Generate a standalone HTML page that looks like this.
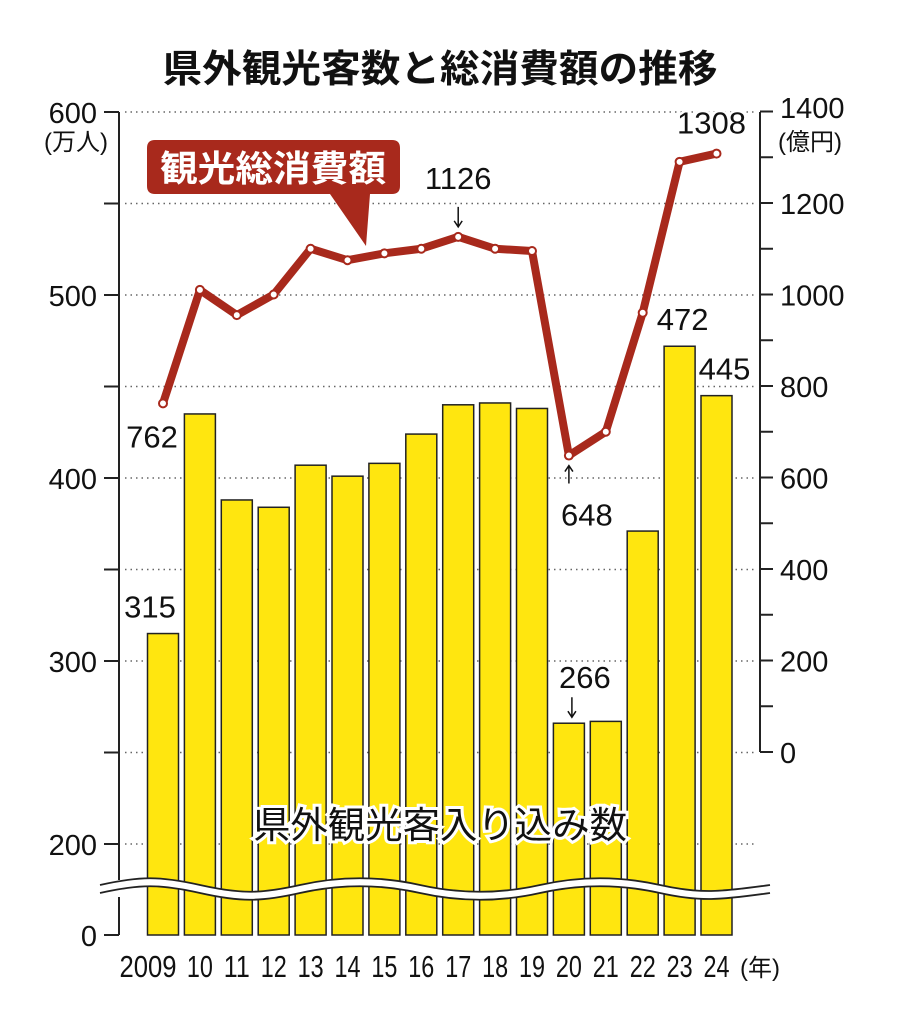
<!DOCTYPE html>
<html><head><meta charset="utf-8"><style>
body{margin:0;background:#fff}
svg text{font-family:"Liberation Sans","Noto Sans CJK JP",sans-serif;fill:#111}
</style></head><body>
<svg id="c" width="900" height="1026" viewBox="0 0 900 1026" xmlns="http://www.w3.org/2000/svg">
<text x="440" y="82" font-size="38" font-weight="bold" text-anchor="middle" textLength="555" lengthAdjust="spacingAndGlyphs">県外観光客数と総消費額の推移</text>
<g id="grid"></g><g id="bars"></g><g id="axes"></g><g id="line"></g><g id="labels"></g>
</svg>
<script>
const years=["2009","10","11","12","13","14","15","16","17","18","19","20","21","22","23","24"];
const visitors=[315,435,388,384,407,401,408,424,440,441,438,266,267,371,472,445];
const spending=[762,1010,955,1000,1100,1075,1090,1100,1126,1100,1095,648,700,960,1290,1308];
const leftTicks=[600,500,400,300,200];
const rightTicks=[1400,1200,1000,800,600,400,200,0];
const NS="http://www.w3.org/2000/svg";
function mk(t,a,p){const e=document.createElementNS(NS,t);for(const k in a)e.setAttribute(k,a[k]);p.appendChild(e);return e;}
const yL=v=>295+(500-v)*1.83;
const yR=v=>752-v*0.4575;
const xC=i=>163+i*36.9;
const G=document.getElementById('grid'),B=document.getElementById('bars'),A=document.getElementById('axes'),L=document.getElementById('line'),T=document.getElementById('labels');
for(let v=600;v>=200;v-=50){const g=mk('line',{x1:125,x2:757,y1:yL(v),y2:yL(v),stroke:'#666','stroke-width':1.5,'stroke-dasharray':'1.5 4'},G);

}
visitors.forEach((v,i)=>{const r=mk('rect',{x:xC(i)-15.5,y:yL(v),width:31,height:935-yL(v),fill:'#ffe60f',stroke:'#222','stroke-width':1.5},B);


const long=years[i].length>2;
const t=mk('text',{x:long?xC(i)-15:xC(i),y:977,'font-size':31,'text-anchor':'middle',textLength:long?57:26,lengthAdjust:'spacingAndGlyphs'},T);t.textContent=years[i];

});
const wave=mk('path',{d:'M100,889 C140,880 160,880 200,889 S260,898 300,889 S380,880 420,889 S500,898 540,889 S620,880 660,889 S720,896 770,889',fill:'none',stroke:'#fff','stroke-width':8},A);


['M100,885 C140,876 160,876 200,885 S260,894 300,885 S380,876 420,885 S500,894 540,885 S620,876 660,885 S720,892 770,885','M100,893 C140,884 160,884 200,893 S260,902 300,893 S380,884 420,893 S500,902 540,893 S620,884 660,893 S720,900 770,893'].forEach(d=>{const p=mk('path',{d,fill:'none',stroke:'#222','stroke-width':1.8},A);

});
const la=mk('path',{d:'M119,112 V880 M119,897 V935',stroke:'#222','stroke-width':2,fill:'none'},A);


for(let v=600;v>=200;v-=50){const tk=mk('line',{x1:104,x2:119,y1:yL(v),y2:yL(v),stroke:'#222','stroke-width':2},A);

}
const t0=mk('line',{x1:104,x2:119,y1:935,y2:935,stroke:'#222','stroke-width':2},A);


leftTicks.concat([0]).forEach(v=>{const y=v?yL(v):935;const t=mk('text',{x:97,y:y+11,'font-size':29,'text-anchor':'end'},T);t.textContent=v;

});
const lu=mk('text',{x:44,y:150,'font-size':24},T);lu.textContent='(万人)';


const ra=mk('line',{x1:760,x2:760,y1:112,y2:752,stroke:'#222','stroke-width':2},A);


for(let v=1400;v>=0;v-=100){const tk=mk('line',{x1:760,x2:773,y1:yR(v),y2:yR(v),stroke:'#222','stroke-width':2},A);

}
rightTicks.forEach(v=>{if(v===1400)return;const t=mk('text',{x:780,y:yR(v)+11,'font-size':29},T);t.textContent=v;

});
const r14=mk('text',{x:780,y:118,'font-size':29},T);r14.textContent='1400';


const ru=mk('text',{x:778,y:150,'font-size':24},T);ru.textContent='(億円)';


const yu=mk('text',{x:740,y:976,'font-size':24},T);yu.textContent='(年)';


const pl=mk('polyline',{points:spending.map((v,i)=>xC(i)+','+yR(v)).join(' '),fill:'none',stroke:'#a8291c','stroke-width':8,'stroke-linejoin':'round'},L);


spending.forEach((v,i)=>{const c=mk('circle',{cx:xC(i),cy:yR(v),r:4,fill:'#fff',stroke:'#a8291c','stroke-width':2},L);

});
const lb=mk('path',{d:'M155,140 H392 Q400,140 400,148 V186 Q400,194 392,194 H370 L366,246 L330,194 H155 Q147,194 147,186 V148 Q147,140 155,140 Z',fill:'#a8291c'},T);


const lt=mk('text',{x:273,y:181,'font-size':36,'font-weight':'bold','text-anchor':'middle',textLength:226,lengthAdjust:'spacingAndGlyphs',style:'fill:#fff'},T);lt.textContent='観光総消費額';


const vl=mk('text',{x:440,y:838,'font-size':37,'text-anchor':'middle',textLength:374,lengthAdjust:'spacingAndGlyphs',stroke:'#fff','stroke-width':6,'paint-order':'stroke'},T);vl.textContent='県外観光客入り込み数';


function ann(txt,x,y,name){const t=mk('text',{x,y,'font-size':31,'text-anchor':'middle',stroke:'#fff','stroke-width':5,'paint-order':'stroke'},T);t.textContent=txt;

}
ann(spending[0],xC(0)-11,yR(spending[0])+44,'value-762');
ann(spending[8],xC(8),yR(spending[8])-48,'value-1126');
ann(spending[11],xC(11)+18,yR(spending[11])+70,'value-648');
ann(spending[15],xC(15)-5,yR(spending[15])-20,'value-1308');
ann(visitors[0],xC(0)-13,yL(visitors[0])-16,'value-315');
ann(visitors[11],xC(11)+16,yL(visitors[11])-35,'value-266');
ann(visitors[14],xC(14)+3,yL(visitors[14])-16,'value-472');
ann(visitors[15],xC(15)+8,yL(visitors[15])-16,'value-445');
function arrow(x,y1,y2,name){const p=mk('path',{d:`M${x},${y1} L${x},${y2} M${x-4},${y2+(y2>y1?-6:6)} L${x},${y2} L${x+4},${y2+(y2>y1?-6:6)}`,stroke:'#111','stroke-width':1.5,fill:'none'},T);

}
arrow(xC(8),yR(spending[8])-30,yR(spending[8])-10,'arrow-1126');
arrow(xC(11),yR(spending[11])+28,yR(spending[11])+10,'arrow-648');
arrow(xC(11)+3,yL(visitors[11])-26,yL(visitors[11])-6,'arrow-266');
</script>
</body></html>
